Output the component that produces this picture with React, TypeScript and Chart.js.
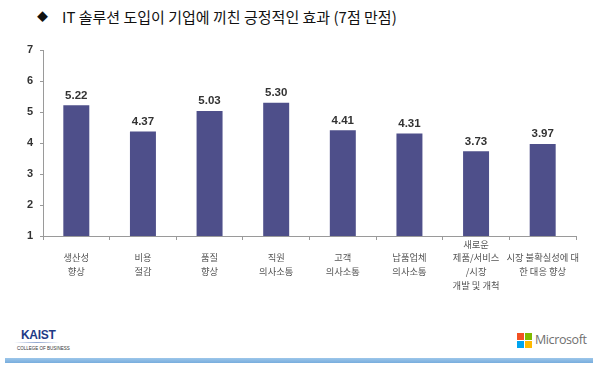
import React, { useEffect, useRef } from "react";
import { Chart, registerables } from "chart.js";

Chart.register(...registerables);

const categories: string[][] = [
  ["생산성", "향상"],
  ["비용", "절감"],
  ["품질", "향상"],
  ["직원", "의사소통"],
  ["고객", "의사소통"],
  ["납품업체", "의사소통"],
  ["새로운", "제품/서비스", "/시장", "개발 및 개척"],
  ["시장 불확실성에 대", "한 대응 향상"],
];
const values: number[] = [5.22, 4.37, 5.03, 5.3, 4.41, 4.31, 3.73, 3.97];
const yTicks: number[] = [1, 2, 3, 4, 5, 6, 7];
const titleText = "IT 솔루션 도입이 기업에 끼친 긍정적인 효과 (7점 만점)";

const labelPlugin = {
  id: "barValueLabels",
  afterDatasetsDraw(chart: any) {
    const ctx = chart.ctx;
    const meta = chart.getDatasetMeta(0);
    ctx.save();
    ctx.font = "bold 11.5px 'Liberation Sans', Arial, sans-serif";
    ctx.fillStyle = "#333333";
    ctx.textAlign = "center";
    ctx.textBaseline = "bottom";
    meta.data.forEach((el: any, i: number) => {
      const v = chart.data.datasets[0].data[i] as number;
      ctx.fillText(v.toFixed(2), el.x, el.y - 4);
    });
    ctx.restore();
  },
};

export default function App() {
  const ref = useRef<HTMLCanvasElement | null>(null);
  useEffect(() => {
    if (!ref.current) return;
    const chart = new Chart(ref.current, {
      type: "bar",
      data: {
        labels: categories,
        datasets: [
          {
            data: values,
            backgroundColor: "#4e4f8a",
            borderWidth: 0,
            barPercentage: 0.39,
            categoryPercentage: 1,
          },
        ],
      },
      options: {
        animation: false,
        responsive: false,
        maintainAspectRatio: false,
        layout: { padding: { top: 50, right: 24, left: 0, bottom: 0 } },
        plugins: {
          legend: { display: false },
          tooltip: { enabled: false },
          title: { display: false },
        },
        scales: {
          x: {
            grid: {
              drawOnChartArea: false,
              drawTicks: true,
              tickLength: 4,
              color: "#9a9a9a",
              offset: true,
            },
            border: { color: "#9a9a9a", width: 1 },
            ticks: {
              font: { size: 9.3, lineHeight: 1.48, family: "'Noto Sans CJK KR', sans-serif" },
              color: "#555555",
              padding: 4,
              crossAlign: "center",
              maxRotation: 0,
              autoSkip: false,
            },
            afterFit: (s: any) => {
              s.height = 74;
            },
          },
          y: {
            min: 1,
            max: 7,
            afterBuildTicks: (s: any) => {
              s.ticks = yTicks.map((v) => ({ value: v }));
            },
            grid: {
              drawOnChartArea: false,
              drawTicks: true,
              tickLength: 3,
              color: "#9a9a9a",
            },
            border: { color: "#9a9a9a", width: 1 },
            ticks: {
              font: { size: 11, weight: "bold", family: "'Liberation Sans', Arial, sans-serif" },
              color: "#333333",
              padding: 7,
            },
            afterFit: (s: any) => {
              s.width = 43;
            },
          },
        },
      },
      plugins: [labelPlugin],
    });
    return () => chart.destroy();
  }, []);

  return (
    <div
      style={{
        position: "absolute",
        left: 0,
        top: 0,
        width: 600,
        height: 374,
        background: "#ffffff",
        overflow: "hidden",
      }}
    >
      <div
        style={{
          position: "absolute",
          left: 37,
          top: 6,
          fontFamily: "'Noto Sans CJK KR', sans-serif",
          fontSize: 15,
          lineHeight: "21px",
          color: "#111111",
          whiteSpace: "nowrap",
        }}
      >
        <span style={{ fontSize: 11, display: "inline-block", width: 25, verticalAlign: "top" }}>◆</span>
        {titleText}
      </div>
      <canvas
        ref={ref}
        width={600}
        height={310}
        style={{ position: "absolute", left: 0, top: 0, width: 600, height: 310 }}
      />
      <div
        style={{
          position: "absolute",
          left: 21,
          top: 329,
          fontFamily: "'Liberation Sans', Arial, sans-serif",
          fontWeight: "bold",
          fontSize: 12,
          color: "#1f3b86",
          letterSpacing: -0.3,
          lineHeight: "12px",
        }}
      >
        KAIST
      </div>
      <div
        style={{
          position: "absolute",
          left: 14,
          top: 342,
          width: 46,
          height: 1,
          background: "linear-gradient(to right, #ffffff, #8fa6cf, #ffffff)",
        }}
      />
      <div
        style={{
          position: "absolute",
          left: 17,
          top: 346,
          fontFamily: "'Liberation Sans', Arial, sans-serif",
          fontSize: 4.5,
          color: "#333333",
          lineHeight: "5px",
          whiteSpace: "nowrap",
        }}
      >
        COLLEGE OF BUSINESS
      </div>
      <div style={{ position: "absolute", left: 517, top: 333, width: 7, height: 7, background: "#f25022" }} />
      <div style={{ position: "absolute", left: 525, top: 333, width: 7, height: 7, background: "#7fba00" }} />
      <div style={{ position: "absolute", left: 517, top: 341, width: 7, height: 7, background: "#00a4ef" }} />
      <div style={{ position: "absolute", left: 525, top: 341, width: 7, height: 7, background: "#ffb900" }} />
      <div
        style={{
          position: "absolute",
          left: 535,
          top: 332,
          fontFamily: "'Open Sans', sans-serif",
          fontSize: 12.5,
          color: "#707070",
          lineHeight: "16px",
          letterSpacing: -0.4,
        }}
      >
        Microsoft
      </div>
      <div
        style={{
          position: "absolute",
          left: 5,
          top: 358,
          width: 588,
          height: 5,
          background: "linear-gradient(to bottom, #9cc6ea, #78addd)",
        }}
      />
    </div>
  );
}
